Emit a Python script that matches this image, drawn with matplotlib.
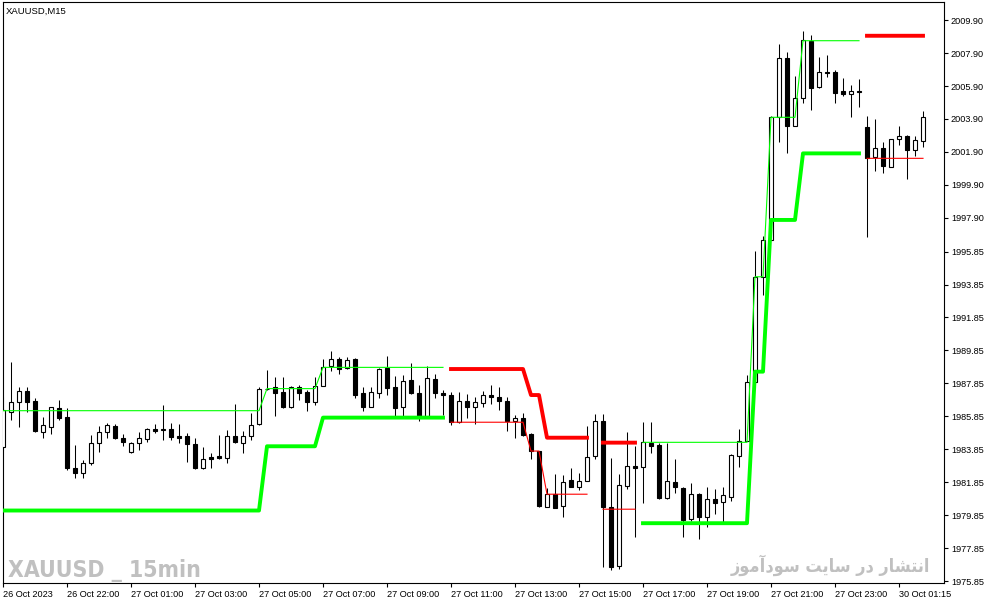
import matplotlib.pyplot as plt
import numpy as np

# XAUUSD M15 candles (bar 0 = 26 Oct 2023 20:00)
opens = [
    1984.01, 1986.13, 1986.70, 1987.39, 1986.78, 1984.92, 1985.22, 1986.34, 1985.83, 1982.69,
    1982.39, 1983.00, 1984.21, 1984.92, 1985.26, 1984.52, 1983.67, 1984.21, 1984.46, 1985.06,
    1985.02, 1985.06, 1984.66, 1984.66, 1984.15, 1982.69, 1983.40, 1983.44, 1983.30, 1984.68,
    1984.21, 1984.68, 1985.37, 1987.53, 1987.61, 1987.31, 1986.43, 1987.65, 1987.33, 1986.74,
    1987.71, 1988.92, 1989.33, 1988.76, 1989.33, 1987.25, 1986.43, 1987.25, 1988.80, 1987.65,
    1986.43, 1988.05, 1987.25, 1985.83, 1988.11, 1987.25, 1987.14, 1985.49, 1986.78, 1986.43,
    1986.68, 1987.14, 1987.00, 1986.78, 1985.58, 1985.73, 1984.78, 1983.74, 1980.36, 1981.12,
    1980.42, 1981.98, 1981.57, 1981.94, 1983.42, 1985.57, 1980.33, 1976.79, 1981.62, 1982.84,
    1982.76, 1984.21, 1984.11, 1980.86, 1981.86, 1981.51, 1979.59, 1981.14, 1979.72, 1980.82,
    1980.66, 1980.97, 1983.46, 1984.35, 1987.95, 1994.32, 1996.55, 2004.00, 2007.58, 2003.47,
    2005.15, 2008.65, 2005.82, 2006.73, 2006.73, 2005.61, 2005.41, 2005.61, 2003.39, 2001.57,
    2002.12, 2001.00, 2002.66, 2002.86, 2002.02, 2002.58]
highs = [
    1987.04, 1989.16, 1987.65, 1987.65, 1986.94, 1985.83, 1986.43, 1986.84, 1986.34, 1984.11,
    1983.20, 1984.72, 1985.28, 1985.43, 1985.37, 1984.76, 1984.27, 1984.88, 1985.12, 1985.37,
    1986.54, 1985.43, 1985.38, 1984.82, 1984.52, 1983.97, 1983.61, 1984.72, 1985.02, 1986.60,
    1984.96, 1986.03, 1987.65, 1988.66, 1988.22, 1988.22, 1987.69, 1987.75, 1987.45, 1988.25,
    1989.33, 1989.79, 1989.47, 1989.47, 1989.37, 1987.61, 1987.61, 1988.76, 1989.51, 1988.30,
    1988.36, 1989.06, 1987.75, 1988.90, 1988.42, 1987.45, 1987.31, 1987.31, 1987.19, 1987.00,
    1987.39, 1987.75, 1987.61, 1987.00, 1985.93, 1986.03, 1984.81, 1983.77, 1981.48, 1982.33,
    1982.29, 1982.69, 1982.39, 1985.26, 1985.99, 1985.99, 1983.32, 1982.35, 1984.92, 1984.05,
    1985.49, 1985.49, 1984.25, 1984.25, 1983.26, 1981.55, 1981.78, 1981.18, 1981.57, 1981.41,
    1981.57, 1983.56, 1985.06, 1988.36, 1995.88, 1996.79, 2004.05, 2008.45, 2007.98, 2006.51,
    2009.26, 2009.00, 2007.64, 2007.78, 2006.87, 2006.37, 2005.96, 2006.31, 2004.08, 2003.88,
    2002.52, 2002.70, 2003.47, 2002.90, 2002.86, 2004.38]
lows = [
    1983.80, 1985.63, 1985.22, 1986.13, 1984.92, 1984.55, 1984.78, 1985.63, 1982.59, 1982.12,
    1982.12, 1982.90, 1983.70, 1984.52, 1984.47, 1984.07, 1983.62, 1983.80, 1984.27, 1984.82,
    1984.41, 1984.41, 1984.25, 1983.09, 1982.63, 1982.65, 1982.69, 1983.26, 1983.00, 1984.23,
    1983.64, 1984.41, 1985.32, 1987.45, 1985.87, 1986.34, 1986.34, 1986.84, 1986.17, 1986.54,
    1987.68, 1988.58, 1988.42, 1988.72, 1986.94, 1986.19, 1986.42, 1986.94, 1987.14, 1985.83,
    1985.83, 1987.19, 1985.57, 1985.81, 1986.94, 1985.93, 1985.32, 1985.45, 1985.77, 1985.37,
    1986.43, 1986.58, 1986.23, 1984.98, 1984.55, 1984.66, 1983.26, 1980.36, 1980.32, 1980.26,
    1979.72, 1981.55, 1981.38, 1981.92, 1983.26, 1976.72, 1976.52, 1976.56, 1981.42, 1978.50,
    1980.60, 1983.61, 1980.80, 1980.82, 1981.21, 1978.50, 1979.49, 1978.38, 1979.11, 1979.92,
    1979.38, 1980.72, 1982.79, 1984.32, 1987.92, 1993.21, 1996.53, 2002.52, 2001.85, 2003.46,
    2004.85, 2004.44, 2005.80, 2006.46, 2004.89, 2005.29, 2004.04, 2004.61, 1996.75, 2000.76,
    2000.64, 2000.98, 2002.32, 2000.25, 2001.65, 2002.22]
closes = [
    1986.23, 1986.70, 1987.39, 1986.74, 1984.96, 1985.32, 1986.40, 1985.77, 1982.69, 1982.39,
    1983.00, 1984.21, 1984.92, 1985.32, 1984.52, 1984.31, 1984.21, 1984.52, 1985.06, 1984.98,
    1985.05, 1984.58, 1984.55, 1984.15, 1982.69, 1983.26, 1983.28, 1983.30, 1984.68, 1984.27,
    1984.68, 1985.30, 1987.53, 1987.49, 1987.28, 1986.43, 1987.65, 1987.28, 1986.74, 1987.69,
    1988.86, 1989.31, 1988.70, 1989.27, 1987.14, 1986.43, 1987.31, 1988.70, 1987.59, 1986.37,
    1987.99, 1987.25, 1985.83, 1988.16, 1987.25, 1987.14, 1985.50, 1986.78, 1986.43, 1986.70,
    1987.14, 1987.00, 1986.80, 1985.57, 1985.73, 1984.72, 1983.74, 1980.42, 1981.12, 1980.30,
    1981.87, 1981.57, 1981.92, 1983.38, 1985.57, 1980.33, 1976.73, 1981.66, 1982.84, 1982.74,
    1984.31, 1984.07, 1980.86, 1981.92, 1981.57, 1979.55, 1981.12, 1979.72, 1980.80, 1980.60,
    1981.06, 1983.48, 1984.35, 1987.91, 1994.32, 1996.55, 2004.00, 2007.58, 2003.47, 2005.15,
    2008.69, 2005.80, 2006.73, 2006.67, 2005.49, 2005.41, 2005.61, 2005.55, 2001.51, 2002.12,
    2001.06, 2002.66, 2002.86, 2002.02, 2002.62, 2004.00]

# indicator levels: (first bar, last bar, price)
thin_green = [(0, 32, 1986.19), (33, 39, 1987.53), (40, 55, 1988.82), (80, 93, 1984.27),
              (94, 95, 1994.32), (96, 99, 2004.00), (100, 107, 2008.65)]
thick_green = [(0, 32, 1980.13), (33, 39, 1984.03), (40, 55, 1985.77), (80, 93, 1979.36),
               (94, 95, 1988.56), (96, 99, 1997.77), (100, 107, 2001.81)]
thick_red = [(56, 65, 1988.72), (66, 67, 1987.14), (68, 73, 1984.55), (75, 79, 1984.25),
             (108, 115, 2008.95)]
thin_red = [(56, 65, 1985.49), (66, 67, 1983.74), (68, 73, 1981.12), (75, 79, 1980.21),
            (108, 115, 2001.51)]

time_labels = ['26 Oct 2023', '26 Oct 22:00', '27 Oct 01:00', '27 Oct 03:00', '27 Oct 05:00',
               '27 Oct 07:00', '27 Oct 09:00', '27 Oct 11:00', '27 Oct 13:00', '27 Oct 15:00',
               '27 Oct 17:00', '27 Oct 19:00', '27 Oct 21:00', '27 Oct 23:00', '30 Oct 01:15']
price_ticks = [1975.85, 1977.85, 1979.85, 1981.85, 1983.85, 1985.85, 1987.85, 1989.85,
               1991.85, 1993.85, 1995.85, 1997.90, 1999.90, 2001.90, 2003.90, 2005.90,
               2007.90, 2009.90]

watermark_fa = 'انتشار در سایت سودآموز'

# presentation forms (isolated, final, initial, medial) for the letters used
FORMS = {
    'ا': ('\uFE8D', '\uFE8E', None, None),
    'آ': ('\uFE81', '\uFE82', None, None),
    'ر': ('\uFEAD', '\uFEAE', None, None),
    'د': ('\uFEA9', '\uFEAA', None, None),
    'و': ('\uFEED', '\uFEEE', None, None),
    'ز': ('\uFEAF', '\uFEB0', None, None),
    'ن': ('\uFEE5', '\uFEE6', '\uFEE7', '\uFEE8'),
    'ت': ('\uFE95', '\uFE96', '\uFE97', '\uFE98'),
    'ش': ('\uFEB5', '\uFEB6', '\uFEB7', '\uFEB8'),
    'س': ('\uFEB1', '\uFEB2', '\uFEB3', '\uFEB4'),
    'ی': ('\uFBFC', '\uFBFD', '\uFEF3', '\uFEF4'),
    'م': ('\uFEE1', '\uFEE2', '\uFEE3', '\uFEE4'),
}


def shape_fa(text):
    # matplotlib has no arabic shaping / rtl, so do it by hand
    out = []
    for i, ch in enumerate(text):
        if ch not in FORMS:
            out.append(ch)
            continue
        iso, fin, ini, med = FORMS[ch]
        prev = text[i - 1] if i > 0 else ' '
        nxt = text[i + 1] if i + 1 < len(text) else ' '
        jp = prev in FORMS and FORMS[prev][2] is not None
        jn = nxt in FORMS and ini is not None
        if jp and jn:
            out.append(med)
        elif jp:
            out.append(fin)
        elif jn:
            out.append(ini)
        else:
            out.append(iso)
    return ''.join(reversed(out))


def level_series(segments, n):
    s = np.full(n, np.nan)
    for a, b, v in segments:
        s[a:b + 1] = v
    return s


o = np.array(opens)
h = np.array(highs)
l = np.array(lows)
c = np.array(closes)
n = len(o)
x = np.arange(n)

W, H = 991, 605
fig = plt.figure(figsize=(W / 100, H / 100), dpi=100)
ax = fig.add_axes([2.5 / W, 1 - 583 / H, (944 - 2.5) / W, (583 - 2) / H])

ax.vlines(x, l, h, color='black', lw=0.75, zorder=2)
up = c >= o
ax.bar(x[up], (c - o)[up], bottom=o[up], width=0.5, facecolor='white',
       edgecolor='black', lw=0.8, zorder=3)
ax.bar(x[~up], (o - c)[~up], bottom=c[~up], width=0.5, facecolor='black',
       edgecolor='black', lw=0.8, zorder=3)

ax.plot(x, level_series(thin_green, n), color='#00ff00', lw=0.8, zorder=4)
ax.plot(x, level_series(thick_green, n), color='#00ff00', lw=2.8, zorder=4)
ax.plot(x, level_series(thin_red, n), color='#ff0000', lw=0.8, zorder=4)
ax.plot(x, level_series(thick_red, n), color='#ff0000', lw=2.8, zorder=4)

ax.set_xlim(-0.0625, 117.625)
ax.set_ylim(1975.73, 2011.0)

ax.yaxis.tick_right()
ax.set_yticks(price_ticks)
ax.set_yticklabels(['%.2f' % p for p in price_ticks], fontfamily='Liberation Sans')
ax.set_xticks(np.arange(0, 8 * len(time_labels), 8))
ax.set_xticklabels(time_labels, ha='left', fontfamily='Liberation Sans')
ax.tick_params(axis='y', direction='out', length=3, width=0.8, pad=2, labelsize=6.6)
ax.tick_params(axis='x', direction='out', length=3, width=0.8, pad=2, labelsize=6.6)
for sp in ax.spines.values():
    sp.set_color('black')
    sp.set_linewidth(0.8)

fig.text(6 / W, 1 - 14 / H, 'XAUUSD,M15', fontsize=6.8, fontfamily='Liberation Sans',
         va='baseline')
fig.text(8 / W, 1 - 577 / H, 'XAUUSD _ 15min', fontsize=16.5, fontweight='bold',
         fontstretch='condensed', fontfamily='DejaVu Sans', color='#c0c0c0',
         va='baseline')
fig.text(930 / W, 1 - 572 / H, shape_fa(watermark_fa), fontsize=13, fontweight='bold',
         fontstretch='condensed', fontfamily=['DejaVu Sans', 'Noto Sans Arabic'],
         color='#c0c0c0', ha='right', va='baseline')

fig.savefig('out.png', dpi=100)
